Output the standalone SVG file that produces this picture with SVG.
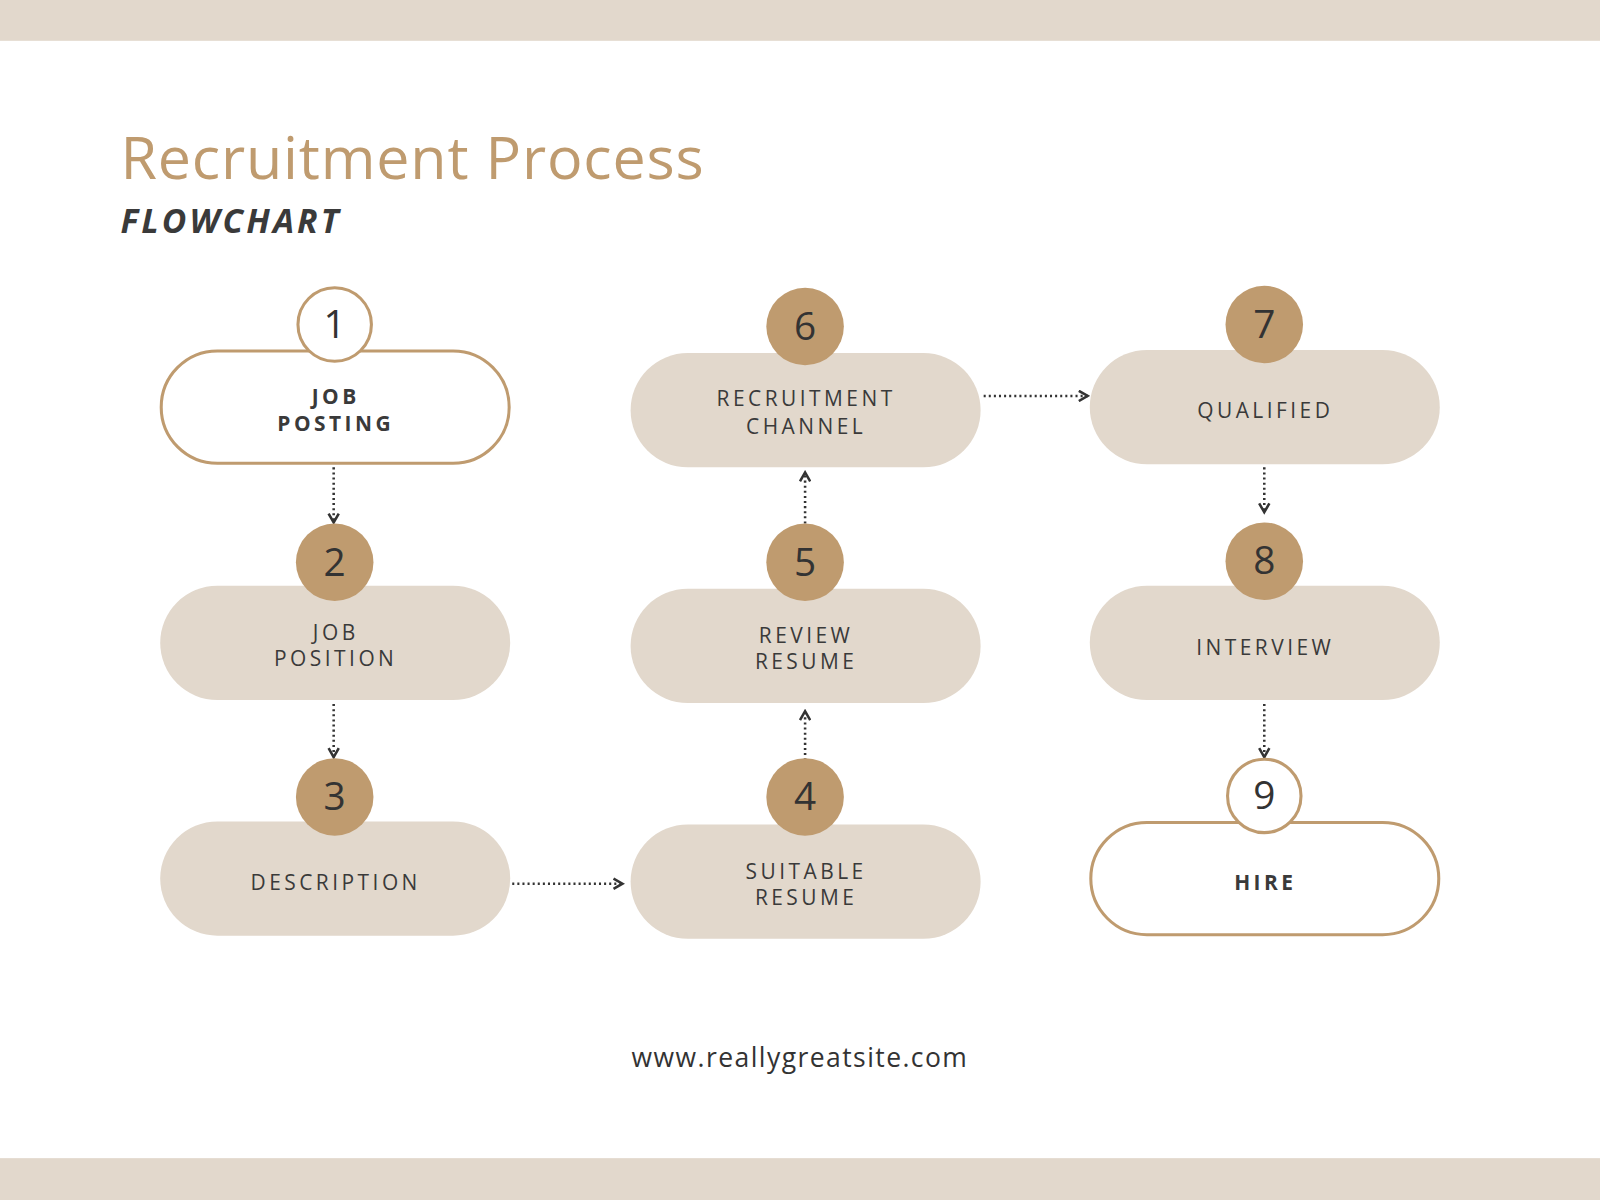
<svg xmlns="http://www.w3.org/2000/svg" width="1600" height="1200" viewBox="0 0 1600 1200">
<defs>
<style>
.band{fill:#e2d8cc}
.pill{fill:#e2d8cc}
.pillw{fill:#fff;stroke:#bf9b6f;stroke-width:3}
.num{fill:#bf9b6f}
.numw{fill:#fff;stroke:#bf9b6f;stroke-width:3}
.nt{font-family:"Open Sans","Liberation Sans",sans-serif;font-size:38px;fill:#333;text-anchor:middle}
.lb{font-family:"Open Sans","Liberation Sans",sans-serif;font-size:20.5px;fill:#3a3a3a;text-anchor:middle;letter-spacing:3.4px}
.bd{font-weight:bold}
.con{stroke:#333;stroke-width:2.5;stroke-dasharray:2 3;fill:none}
</style>
<marker id="ar" viewBox="0 0 10 10" refX="8" refY="5" markerWidth="5" markerHeight="5" orient="auto"><path d="M1 1L8 5L1 9" fill="none" stroke="#333" stroke-width="2"/></marker>
</defs>
<g transform="scale(1.0204)">
<rect class="band" x="0" y="0" width="1568" height="40"/>
<rect class="band" x="0" y="1135" width="1568" height="41"/>
<text x="118" y="175" font-family="Open Sans,Liberation Sans,sans-serif" font-size="58" fill="#bf9b6f" letter-spacing="0.8">Recruitment Process</text>
<text x="118" y="228" font-family="Open Sans,Liberation Sans,sans-serif" font-size="33" font-weight="bold" font-style="italic" fill="#3a3a3a" letter-spacing="3">FLOWCHART</text>
<g id="connectors">
<path class="con" d="M327 458V512" marker-end="url(#ar)"/>
<path class="con" d="M327 690V742" marker-end="url(#ar)"/>
<path class="con" d="M502 866H610" marker-end="url(#ar)"/>
<path class="con" d="M789 745V697" marker-end="url(#ar)"/>
<path class="con" d="M789 513V463" marker-end="url(#ar)"/>
<path class="con" d="M964 388H1066" marker-end="url(#ar)"/>
<path class="con" d="M1239 458V502" marker-end="url(#ar)"/>
<path class="con" d="M1239 690V742" marker-end="url(#ar)"/>
</g>
<g id="n1"><rect class="pillw" x="158" y="344" width="341" height="110" rx="55"/><circle class="numw" cx="328" cy="318" r="36"/><text class="nt" x="328" y="331">1</text><text class="lb bd" x="329" y="396">JOB</text><text class="lb bd" x="329" y="422">POSTING</text></g>
<g id="n2"><rect class="pill" x="157" y="574" width="343" height="112" rx="56"/><circle class="num" cx="328" cy="551" r="38"/><text class="nt" x="328" y="564">2</text><text class="lb" x="329" y="627">JOB</text><text class="lb" x="329" y="653">POSITION</text></g>
<g id="n3"><rect class="pill" x="157" y="805" width="343" height="112" rx="56"/><circle class="num" cx="328" cy="781" r="38"/><text class="nt" x="328" y="794">3</text><text class="lb" x="329" y="872">DESCRIPTION</text></g>
<g id="n4"><rect class="pill" x="618" y="808" width="343" height="112" rx="56"/><circle class="num" cx="789" cy="781" r="38"/><text class="nt" x="789" y="794">4</text><text class="lb" x="790" y="861">SUITABLE</text><text class="lb" x="790" y="887">RESUME</text></g>
<g id="n5"><rect class="pill" x="618" y="577" width="343" height="112" rx="56"/><circle class="num" cx="789" cy="551" r="38"/><text class="nt" x="789" y="564">5</text><text class="lb" x="790" y="630">REVIEW</text><text class="lb" x="790" y="656">RESUME</text></g>
<g id="n6"><rect class="pill" x="618" y="346" width="343" height="112" rx="56"/><circle class="num" cx="789" cy="320" r="38"/><text class="nt" x="789" y="333">6</text><text class="lb" x="790" y="398">RECRUITMENT</text><text class="lb" x="790" y="425">CHANNEL</text></g>
<g id="n7"><rect class="pill" x="1068" y="343" width="343" height="112" rx="56"/><circle class="num" cx="1239" cy="318" r="38"/><text class="nt" x="1239" y="331">7</text><text class="lb" x="1240" y="410">QUALIFIED</text></g>
<g id="n8"><rect class="pill" x="1068" y="574" width="343" height="112" rx="56"/><circle class="num" cx="1239" cy="550" r="38"/><text class="nt" x="1239" y="563">8</text><text class="lb" x="1240" y="642">INTERVIEW</text></g>
<g id="n9"><rect class="pillw" x="1069" y="806" width="341" height="110" rx="55"/><circle class="numw" cx="1239" cy="780" r="36"/><text class="nt" x="1239" y="793">9</text><text class="lb bd" x="1240" y="872">HIRE</text></g>
<text x="784" y="1046" font-family="Open Sans,Liberation Sans,sans-serif" font-size="26" fill="#333" text-anchor="middle" letter-spacing="1.4">www.reallygreatsite.com</text>
</g>
</svg>
